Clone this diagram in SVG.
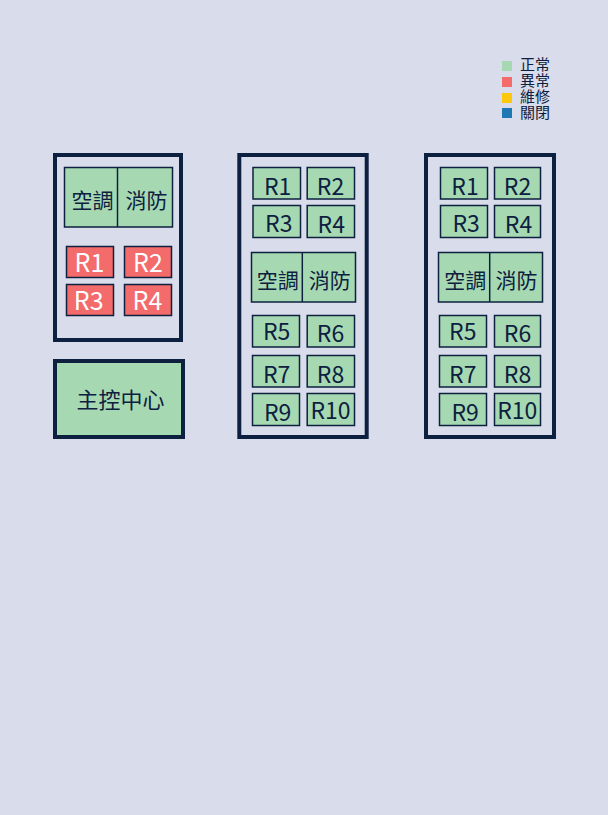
<svg xmlns="http://www.w3.org/2000/svg" width="608" height="815" viewBox="0 0 608 815">
<style>
.bg{fill:#d9dcea}
.panel{fill:none;stroke:#0d2040;stroke-width:4}
.ok{fill:#a6d9b2;stroke:#0d2040;stroke-width:1.5}
.bad{fill:#f36b6b;stroke:#0d2040;stroke-width:1.5}
.div{stroke:#0d2040;stroke-width:1.5}
text{font-family:"Noto Sans CJK TC","Noto Sans",sans-serif;fill:#0d2040;text-anchor:middle}
.r{font-size:23px}
.rw{font-size:25px;fill:#ffffff}
.c{font-size:21px}
.lg{font-size:15px;text-anchor:start}
</style>
<rect class="bg" x="0" y="0" width="608" height="815"/>
<g id="legend">
<rect x="502" y="61" width="10" height="10" fill="#a6d9b2"/>
<rect x="502" y="77" width="10" height="10" fill="#f36b6b"/>
<rect x="502" y="93" width="10" height="10" fill="#fdc80c"/>
<rect x="502" y="108" width="10" height="10" fill="#1f78b4"/>
<text class="lg" x="520" y="70"><tspan x="520" y="70">正常</tspan><tspan x="520" y="86">異常</tspan><tspan x="520" y="102">維修</tspan><tspan x="520" y="118">關閉</tspan></text>
</g>
<g id="panel1">
<rect class="panel" x="55" y="155" width="126" height="185"/>
<g id="p1-ac">
<rect class="ok" x="64.5" y="167.5" width="108" height="59.5"/>
<line class="div" x1="117.5" y1="167.5" x2="117.5" y2="227"/>
<text class="c" x="92.5" y="208">空調</text>
<text class="c" x="146.5" y="208">消防</text>
</g>
<g id="p1-r1"><rect class="bad" x="66.5" y="246.5" width="47" height="31"/><text class="rw" x="89.5" y="271.5">R1</text></g>
<g id="p1-r2"><rect class="bad" x="124.5" y="246.5" width="47" height="31"/><text class="rw" x="148" y="271.5">R2</text></g>
<g id="p1-r3"><rect class="bad" x="66.5" y="284.5" width="47" height="31"/><text class="rw" x="88.7" y="310">R3</text></g>
<g id="p1-r4"><rect class="bad" x="124.5" y="284.5" width="47" height="31"/><text class="rw" x="147.5" y="310">R4</text></g>
</g>
<g id="control">
<rect x="55" y="361" width="128" height="76" fill="#a6d9b2" stroke="#0d2040" stroke-width="4"/>
<text x="120.5" y="408" style="font-size:22px">主控中心</text>
</g>
<g id="panel2">
<rect class="panel" x="239.3" y="155" width="127.4" height="282"/>
<g id="p2-r1"><rect class="ok" x="253" y="167.5" width="47.5" height="31.5"/><text class="r" x="277.7" y="195">R1</text></g>
<g id="p2-r2"><rect class="ok" x="307.2" y="167.5" width="47.3" height="31.5"/><text class="r" x="330.5" y="195">R2</text></g>
<g id="p2-r3"><rect class="ok" x="253" y="205.5" width="47.5" height="32"/><text class="r" x="278.8" y="231.7">R3</text></g>
<g id="p2-r4"><rect class="ok" x="307.2" y="205.5" width="47.3" height="32"/><text class="r" x="331.3" y="232.5">R4</text></g>
<g id="p2-ac">
<rect class="ok" x="251.5" y="252.5" width="104" height="49.5"/>
<line class="div" x1="302.3" y1="252.5" x2="302.3" y2="302"/>
<text class="c" x="277.7" y="287.5">空調</text>
<text class="c" x="329.7" y="287.5">消防</text>
</g>
<g id="p2-r5"><rect class="ok" x="252.5" y="315.5" width="47" height="31.5"/><text class="r" x="276.7" y="340">R5</text></g>
<g id="p2-r6"><rect class="ok" x="307.2" y="315.5" width="47.3" height="31.5"/><text class="r" x="330.5" y="341.7">R6</text></g>
<g id="p2-r7"><rect class="ok" x="252.5" y="355.5" width="47" height="31.5"/><text class="r" x="276.7" y="382.7">R7</text></g>
<g id="p2-r8"><rect class="ok" x="307.2" y="355.5" width="47.3" height="31.5"/><text class="r" x="330.5" y="382.7">R8</text></g>
<g id="p2-r9"><rect class="ok" x="252.5" y="393.5" width="47" height="32"/><text class="r" x="277.7" y="421">R9</text></g>
<g id="p2-r10"><rect class="ok" x="307.2" y="393.5" width="47.3" height="32"/><text class="r" x="330.5" y="419">R10</text></g>
</g>
<g id="panel3">
<rect class="panel" x="426" y="155" width="128" height="282"/>
<g id="p3-r1"><rect class="ok" x="440.5" y="167.5" width="47" height="31.5"/><text class="r" x="465" y="195">R1</text></g>
<g id="p3-r2"><rect class="ok" x="494.5" y="167.5" width="46" height="31.5"/><text class="r" x="517.5" y="195">R2</text></g>
<g id="p3-r3"><rect class="ok" x="440.5" y="205.5" width="47" height="32"/><text class="r" x="466.2" y="231.7">R3</text></g>
<g id="p3-r4"><rect class="ok" x="494.5" y="205.5" width="46" height="32"/><text class="r" x="518.5" y="232.5">R4</text></g>
<g id="p3-ac">
<rect class="ok" x="438.5" y="252.5" width="104" height="49.5"/>
<line class="div" x1="489.7" y1="252.5" x2="489.7" y2="302"/>
<text class="c" x="465.2" y="287.5">空調</text>
<text class="c" x="516.5" y="287.5">消防</text>
</g>
<g id="p3-r5"><rect class="ok" x="439.5" y="315.5" width="47" height="31.5"/><text class="r" x="462.8" y="340">R5</text></g>
<g id="p3-r6"><rect class="ok" x="494.5" y="315.5" width="46" height="31.5"/><text class="r" x="517.5" y="341.7">R6</text></g>
<g id="p3-r7"><rect class="ok" x="439.5" y="355.5" width="47" height="31.5"/><text class="r" x="462.8" y="382.7">R7</text></g>
<g id="p3-r8"><rect class="ok" x="494.5" y="355.5" width="46" height="31.5"/><text class="r" x="517.5" y="382.7">R8</text></g>
<g id="p3-r9"><rect class="ok" x="439.5" y="393.5" width="47" height="32"/><text class="r" x="465.2" y="421">R9</text></g>
<g id="p3-r10"><rect class="ok" x="494.5" y="393.5" width="46" height="32"/><text class="r" x="517.2" y="419">R10</text></g>
</g>
<g id="connectors"/>
</svg>
